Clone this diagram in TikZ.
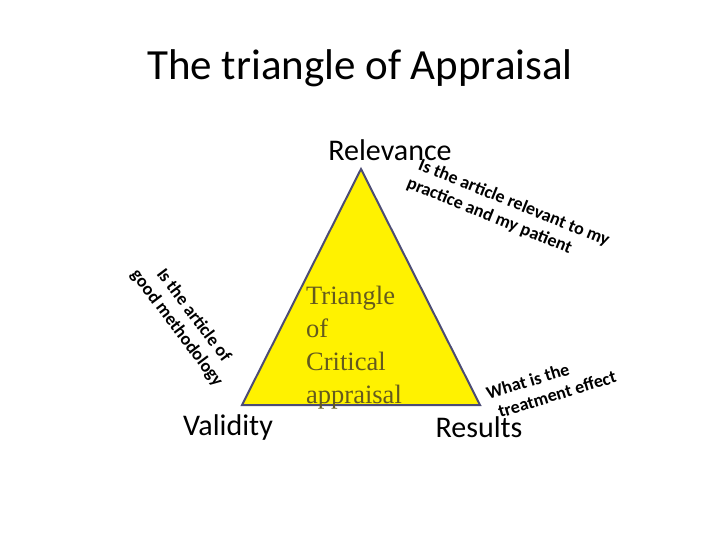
\documentclass[tikz,border=0pt]{standalone}
\usepackage{fontspec}
\setmainfont{Carlito}
\newfontfamily\tnr{Liberation Serif}
\definecolor{olivetxt}{RGB}{100,90,30}
\begin{document}
\begin{tikzpicture}[x=1pt,y=-1pt,
  q/.style={font=\bfseries\fontsize{18}{21}\selectfont, align=left, inner sep=0pt},
  lbl/.style={font=\fontsize{30}{30}\selectfont, inner sep=0pt}]
\useasboundingbox (0,0) rectangle (720,540);
\node[font=\fontsize{43}{43}\selectfont] (title) at (360,68) {The triangle of Appraisal};
\coordinate (A) at (361,169);
\coordinate (B) at (242,405);
\coordinate (C) at (480,405);
\draw[fill=yellow, draw=black!60!blue!40!gray, line width=2pt, line join=miter] (A) -- (B) -- (C) -- cycle;
\node[lbl] (rel) at (390,150) {Relevance};
\node[lbl] (val) at (228,427) {Validity};
\node[lbl] (res) at (479,427) {Results};
\node[font=\tnr\fontsize{26.5}{33}\selectfont, text=olivetxt, align=left, anchor=north west, inner sep=0pt] (tri) at (306,286) {Triangle\\of\\Critical\\appraisal};
\node[q, rotate=-22] (q1) at (510,213) {Is the article relevant to my\\\hspace*{-4pt}practice and my patient};
\node[q, rotate=-53, align=center] (q2) at (185,322) {Is the article of\\good methodology};
\node[q, rotate=17] (q3) at (554,384) {\hspace*{-6pt}What is the\\treatment effect};
\end{tikzpicture}
\end{document}
